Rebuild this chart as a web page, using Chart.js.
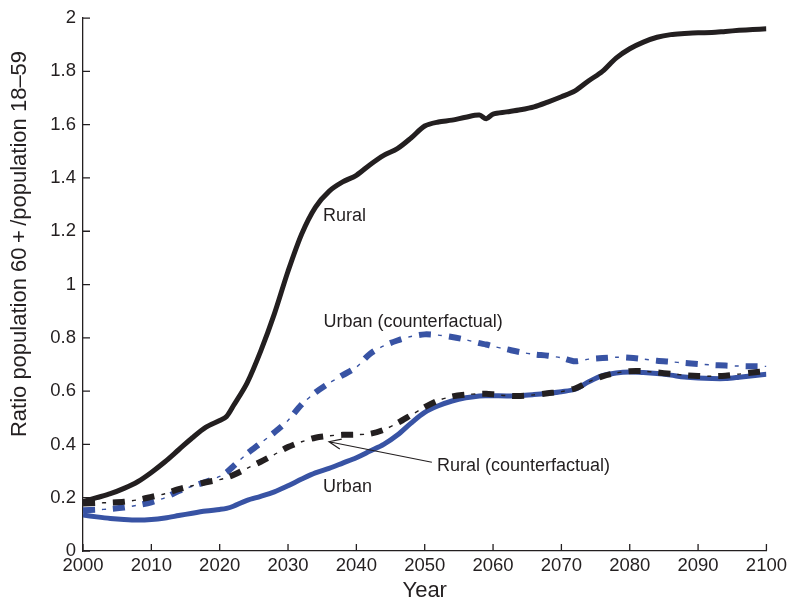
<!DOCTYPE html>
<html>
<head>
<meta charset="utf-8">
<script src="https://cdn.jsdelivr.net/npm/chart.js@4.4.1/dist/chart.umd.min.js"></script>
<style>
  html, body { margin: 0; padding: 0; background: #ffffff; }
</style>
</head>
<body>
<canvas id="ratio" width="791" height="604"></canvas>
<script>
/* Years on the x axis (irregular where a kink needs an extra point) */
var years = [2000, 2002, 2004, 2006, 2008, 2010, 2012, 2014, 2016, 2018, 2020, 2021, 2022,
  2024, 2026, 2028, 2030, 2032, 2034, 2036, 2038, 2040, 2042, 2044, 2046, 2048, 2050,
  2052, 2054, 2056, 2058, 2059, 2060, 2062, 2064, 2066, 2068, 2070, 2072, 2074, 2076,
  2078, 2080, 2082, 2084, 2086, 2088, 2090, 2092, 2094, 2096, 2098, 2100];

/* Ratio population 60+ / population 18-59 */
var rural = [0.185, 0.20, 0.215, 0.235, 0.26, 0.295, 0.335, 0.38, 0.425, 0.465, 0.49, 0.505, 0.545,
  0.63, 0.75, 0.89, 1.05, 1.19, 1.29, 1.35, 1.385, 1.41, 1.45, 1.485, 1.51, 1.55, 1.595,
  1.61, 1.617, 1.628, 1.636, 1.622, 1.64, 1.648, 1.656, 1.667, 1.685, 1.705, 1.727, 1.765, 1.80,
  1.85, 1.885, 1.91, 1.928, 1.938, 1.942, 1.945, 1.946, 1.95, 1.954, 1.957, 1.96];

var urban = [0.135, 0.128, 0.122, 0.118, 0.116, 0.118, 0.124, 0.133, 0.142, 0.15, 0.156, 0.16, 0.168,
  0.19, 0.205, 0.222, 0.245, 0.27, 0.293, 0.31, 0.33, 0.35, 0.375, 0.40, 0.435, 0.48, 0.52,
  0.545, 0.563, 0.575, 0.582, 0.583, 0.583, 0.582, 0.583, 0.587, 0.592, 0.598, 0.607, 0.635, 0.658,
  0.668, 0.672, 0.67, 0.666, 0.66, 0.653, 0.649, 0.647, 0.647, 0.652, 0.658, 0.663];

var ruralCf = [0.178, 0.18, 0.182, 0.185, 0.192, 0.203, 0.215, 0.232, 0.245, 0.258, 0.268, 0.275, 0.285,
  0.31, 0.335, 0.362, 0.39, 0.41, 0.425, 0.432, 0.436, 0.437, 0.44, 0.455, 0.48, 0.51, 0.54,
  0.565, 0.58, 0.587, 0.59, 0.59, 0.588, 0.583, 0.582, 0.586, 0.592, 0.598, 0.61, 0.635, 0.655,
  0.668, 0.675, 0.675, 0.67, 0.665, 0.66, 0.657, 0.656, 0.658, 0.664, 0.67, 0.675];

var urbanCf = [0.153, 0.155, 0.158, 0.163, 0.172, 0.183, 0.20, 0.225, 0.243, 0.26, 0.28, 0.295, 0.318,
  0.365, 0.405, 0.445, 0.49, 0.55, 0.595, 0.63, 0.66, 0.69, 0.74, 0.77, 0.79, 0.805, 0.813,
  0.81, 0.803, 0.793, 0.78, 0.775, 0.768, 0.757, 0.746, 0.738, 0.733, 0.725, 0.712, 0.72, 0.724,
  0.727, 0.725, 0.72, 0.714, 0.71, 0.706, 0.702, 0.698, 0.696, 0.694, 0.693, 0.693];

/* Text labels placed on the plot, in data coordinates */
var labels = [
  { text: 'Rural', x: 2035.1, y: 1.24 },
  { text: 'Urban (counterfactual)', x: 2035.2, y: 0.842 },
  { text: 'Urban', x: 2035.1, y: 0.223 },
  { text: 'Rural (counterfactual)', x: 2051.8, y: 0.302 }
];
var arrowFrom = { x: 2051.05, y: 0.333 };
var arrowTo = { x: 2036.0, y: 0.41 };

var INK = '#231f20';
var BLUE = '#3853a4';
var FONT = '"Liberation Sans", Arial, Helvetica, sans-serif';

function pts(values) {
    return values.map(function (v, i) { return { x: years[i], y: v }; });
}

function lineSet(label, values, color, width, dash, offset, order) {
    return {
        label: label,
        data: pts(values),
        borderColor: color,
        borderWidth: width,
        borderDash: dash || [],
        borderDashOffset: offset || 0,
        pointRadius: 0,
        tension: 0.3,
        fill: false,
        order: order
    };
}

/* Inward tick marks on both axes */
var innerTicks = {
    id: 'innerTicks',
    beforeDatasetsDraw: function (chart) {
        var ctx = chart.ctx;
        var xs = chart.scales.x;
        var ys = chart.scales.y;
        var a = chart.chartArea;
        ctx.save();
        ctx.strokeStyle = INK;
        ctx.lineWidth = 1.3;
        ctx.beginPath();
        xs.ticks.forEach(function (t) {
            var px = xs.getPixelForValue(t.value);
            ctx.moveTo(px, a.bottom);
            ctx.lineTo(px, a.bottom - 7);
        });
        ys.ticks.forEach(function (t) {
            var py = ys.getPixelForValue(t.value);
            ctx.moveTo(a.left, py);
            ctx.lineTo(a.left + 7, py);
        });
        ctx.stroke();
        ctx.restore();
    }
};

/* Curve labels, arrow and the rotated y title */
var annotations = {
    id: 'annotations',
    afterDatasetsDraw: function (chart) {
        var ctx = chart.ctx;
        var xs = chart.scales.x;
        var ys = chart.scales.y;
        ctx.save();
        ctx.fillStyle = INK;
        ctx.font = '18px ' + FONT;
        ctx.textAlign = 'left';
        ctx.textBaseline = 'alphabetic';
        labels.forEach(function (l) {
            ctx.fillText(l.text, xs.getPixelForValue(l.x), ys.getPixelForValue(l.y));
        });

        var x1 = xs.getPixelForValue(arrowFrom.x), y1 = ys.getPixelForValue(arrowFrom.y);
        var x2 = xs.getPixelForValue(arrowTo.x), y2 = ys.getPixelForValue(arrowTo.y);
        var ang = Math.atan2(y2 - y1, x2 - x1);
        ctx.strokeStyle = INK;
        ctx.lineWidth = 1.2;
        ctx.beginPath();
        ctx.moveTo(x1, y1);
        ctx.lineTo(x2, y2);
        ctx.moveTo(x2 - 13 * Math.cos(ang - 0.4), y2 - 13 * Math.sin(ang - 0.4));
        ctx.lineTo(x2, y2);
        ctx.lineTo(x2 - 13 * Math.cos(ang + 0.4), y2 - 13 * Math.sin(ang + 0.4));
        ctx.stroke();

        ctx.translate(20, 244);
        ctx.rotate(-Math.PI / 2);
        ctx.font = '22px ' + FONT;
        ctx.textAlign = 'center';
        ctx.textBaseline = 'middle';
        ctx.fillText('Ratio population 60\u2009+\u2009/population 18\u201359', 0, 0);
        ctx.restore();
    }
};

var ctxRatio = document.getElementById('ratio');

var chartRatio = new Chart(ctxRatio, {
    type: 'line',
    data: {
        datasets: [
            lineSet('Rural (counterfactual)', ruralCf, INK, 6, [12, 18], 0, 0),
            lineSet('Rural (counterfactual) dots', ruralCf, INK, 1.4, [4, 26], 11, 1),
            lineSet('Rural', rural, INK, 5, null, 0, 2),
            lineSet('Urban (counterfactual)', urbanCf, BLUE, 6, [12, 18], 0, 3),
            lineSet('Urban (counterfactual) dots', urbanCf, BLUE, 1.4, [4, 26], 11, 4),
            lineSet('Urban', urban, BLUE, 5, null, 0, 5)
        ]
    },
    options: {
        responsive: false,
        maintainAspectRatio: false,
        animation: false,
        layout: { padding: { left: 0, right: 22, top: 14, bottom: 0 } },
        plugins: {
            legend: { display: false },
            tooltip: { enabled: false }
        },
        scales: {
            x: {
                type: 'linear',
                min: 2000,
                max: 2100,
                grid: { display: false, drawTicks: false },
                border: { display: true, color: INK, width: 1.3 },
                ticks: {
                    stepSize: 10,
                    color: INK,
                    padding: 4,
                    maxRotation: 0,
                    font: { family: FONT, size: 18.5 },
                    callback: function (v) { return String(v); }
                },
                title: {
                    display: true,
                    text: 'Year',
                    color: INK,
                    font: { family: FONT, size: 22 },
                    padding: { top: 0, bottom: 0 }
                },
                afterFit: function (scale) { scale.height = 53; }
            },
            y: {
                min: 0,
                max: 2,
                grid: { display: false, drawTicks: false },
                border: { display: true, color: INK, width: 1.3 },
                ticks: {
                    stepSize: 0.2,
                    color: INK,
                    padding: 7,
                    font: { family: FONT, size: 18.5 },
                    callback: function (v) { return String(Math.round(v * 10) / 10); }
                },
                afterFit: function (scale) { scale.width = 83; }
            }
        }
    },
    plugins: [innerTicks, annotations]
});
</script>
</body>
</html>
